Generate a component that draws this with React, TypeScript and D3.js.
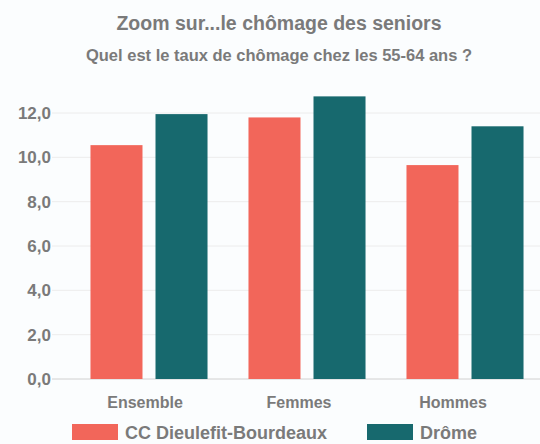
import React from "react";
import * as d3 from "d3";

const categories = ["Ensemble", "Femmes", "Hommes"];
const seriesNames = ["CC Dieulefit-Bourdeaux", "Drôme"];
const ccValues = [10.55, 11.8, 9.65];
const dromeValues = [11.95, 12.75, 11.4];
const yTicks = [0, 2, 4, 6, 8, 10, 12];
const colors = ["#F2665A", "#17696E"];

const W = 540;
const H = 444;

export default function App() {
  const y = d3.scaleLinear().domain([0, 12]).range([379, 113]);
  const x0 = d3.scaleBand<string>().domain(categories).range([70, 544]).padding(0);
  const x1 = d3
    .scaleBand<string>()
    .domain(seriesNames)
    .range([0, x0.bandwidth()])
    .paddingInner(0.2)
    .paddingOuter(0.315);
  const fmt = (v: number) => v.toFixed(1).replace(".", ",");
  const series = [ccValues, dromeValues];
  const font = "Liberation Sans, Arial, sans-serif";
  const gray = "#7a7a7a";

  return (
    <svg
      width={W}
      height={H}
      style={{ position: "absolute", left: 0, top: 0, background: "#fbfdfe" }}
      fontFamily={font}
    >
      <rect x={0} y={0} width={W} height={H} fill="#fbfdfe" />
      <text x={279} y={30} textAnchor="middle" fontSize={19.5} fontWeight="bold" fill={gray}>
        Zoom sur...le chômage des seniors
      </text>
      <text x={279} y={61} textAnchor="middle" fontSize={16.5} fontWeight="bold" fill={gray}>
        Quel est le taux de chômage chez les 55-64 ans ?
      </text>
      {yTicks.map((t) => (
        <g key={t}>
          <line x1={52} x2={540} y1={y(t)} y2={y(t)} stroke={t === 0 ? "#d0d0d0" : "#ececec"} strokeWidth={1} />
          <text x={51} y={y(t) + 6} textAnchor="end" fontSize={17} fontWeight="bold" fill={gray}>
            {fmt(t)}
          </text>
        </g>
      ))}
      {categories.map((c, i) => (
        <g key={c} transform={`translate(${x0(c)},0)`}>
          {seriesNames.map((s, j) => (
            <rect
              key={s}
              x={x1(s)}
              y={y(series[j][i])}
              width={x1.bandwidth()}
              height={y(0) - y(series[j][i])}
              fill={colors[j]}
            />
          ))}
          <text
            x={x0.bandwidth() / 2 - 4 - i * 4}
            y={408}
            textAnchor="middle"
            fontSize={16}
            fontWeight="bold"
            fill={gray}
          >
            {c}
          </text>
        </g>
      ))}
      {seriesNames.map((s, j) => {
        const lx = j === 0 ? 72 : 367;
        return (
          <g key={s}>
            <rect x={lx} y={424} width={46} height={16} fill={colors[j]} />
            <text x={lx + 53} y={439} fontSize={18} fontWeight="bold" fill={gray}>
              {s}
            </text>
          </g>
        );
      })}
    </svg>
  );
}
